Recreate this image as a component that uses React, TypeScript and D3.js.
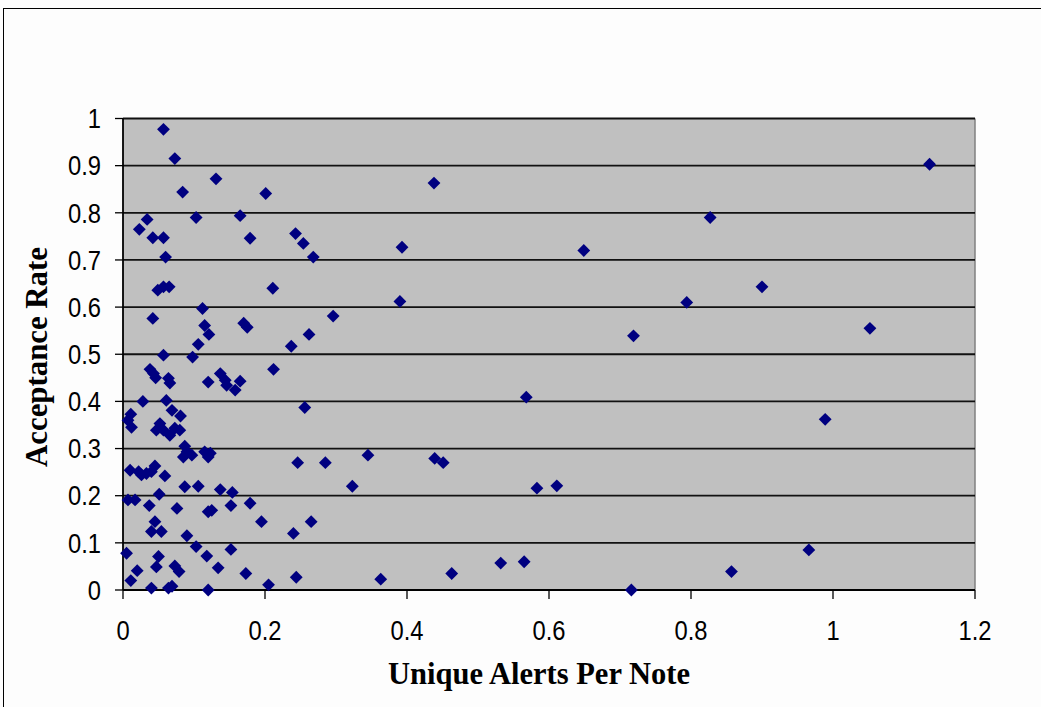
import React from "react";
import * as d3 from "d3";

// Unique alerts per note (x) and acceptance rate (y)
const alertsPerNote: number[] = [
  0.057, 0.073, 0.131, 0.084, 0.034, 0.023, 0.103, 0.042, 0.057, 0.060,
  0.049, 0.057, 0.065, 0.112, 0.042, 0.115, 0.121, 0.106, 0.057, 0.098,
  0.201, 0.165, 0.179, 0.243, 0.254, 0.268, 0.393, 0.211, 0.390, 0.170,
  0.175, 0.296, 0.262, 0.237,
  0.438, 0.827, 0.649, 0.794, 0.719, 1.136, 0.900, 1.052,
  0.038, 0.043, 0.046, 0.064, 0.066, 0.120, 0.137, 0.144, 0.146, 0.158,
  0.165, 0.212, 0.256, 0.028, 0.061, 0.069, 0.081, 0.011, 0.007, 0.012,
  0.052, 0.057, 0.047, 0.066, 0.073, 0.080, 0.087, 0.090, 0.085, 0.097,
  0.115, 0.123, 0.120, 0.010, 0.022, 0.026, 0.033, 0.040, 0.045, 0.059,
  0.087, 0.106, 0.137, 0.154, 0.051, 0.007, 0.017, 0.037, 0.076, 0.120,
  0.125, 0.152, 0.179, 0.045, 0.040, 0.054, 0.090, 0.103, 0.118, 0.134,
  0.195, 0.265, 0.240, 0.152, 0.173, 0.205, 0.244, 0.363, 0.005, 0.050,
  0.047, 0.073, 0.079, 0.020, 0.011, 0.040, 0.064, 0.069, 0.120, 0.246,
  0.285, 0.345, 0.323,
  0.568, 0.439, 0.451, 0.583, 0.611, 0.463, 0.532, 0.565, 0.716, 0.989,
  0.966, 0.857,
];

const acceptanceRate: number[] = [
  0.977, 0.915, 0.872, 0.844, 0.786, 0.765, 0.790, 0.747, 0.747, 0.706,
  0.636, 0.643, 0.643, 0.597, 0.576, 0.561, 0.542, 0.521, 0.498, 0.494,
  0.841, 0.794, 0.746, 0.756, 0.735, 0.706, 0.727, 0.640, 0.612, 0.566,
  0.557, 0.581, 0.542, 0.517,
  0.863, 0.790, 0.720, 0.610, 0.539, 0.903, 0.643, 0.555,
  0.468, 0.459, 0.450, 0.449, 0.439, 0.441, 0.459, 0.445, 0.434, 0.424,
  0.443, 0.468, 0.387, 0.400, 0.402, 0.381, 0.369, 0.373, 0.360, 0.345,
  0.353, 0.339, 0.339, 0.328, 0.343, 0.339, 0.305, 0.293, 0.282, 0.286,
  0.293, 0.290, 0.282, 0.254, 0.251, 0.244, 0.247, 0.251, 0.263, 0.242,
  0.219, 0.220, 0.213, 0.207, 0.203, 0.191, 0.191, 0.179, 0.173, 0.166,
  0.169, 0.179, 0.184, 0.145, 0.124, 0.124, 0.115, 0.092, 0.072, 0.047,
  0.145, 0.145, 0.120, 0.086, 0.035, 0.011, 0.027, 0.023, 0.078, 0.071,
  0.049, 0.051, 0.039, 0.041, 0.020, 0.004, 0.004, 0.008, 0.000, 0.270,
  0.270, 0.286, 0.220,
  0.409, 0.279, 0.270, 0.216, 0.221, 0.035, 0.057, 0.060, 0.000, 0.362,
  0.085, 0.039,
];

const xTicks: number[] = [0, 0.2, 0.4, 0.6, 0.8, 1, 1.2];
const yTicks: number[] = [0, 0.1, 0.2, 0.3, 0.4, 0.5, 0.6, 0.7, 0.8, 0.9, 1];
const xTitle = "Unique Alerts Per Note";
const yTitle = "Acceptance Rate";

export default function App() {
  const W = 1041;
  const H = 707;
  const left = 123;
  const right = 975;
  const top = 118.5;
  const bottom = 590;

  const x = d3.scaleLinear().domain([0, 1.2]).range([left, right]);
  const y = d3.scaleLinear().domain([0, 1]).range([bottom, top]);
  const fmt = (v: number) => String(v);
  const diamond = d3.symbol().type(d3.symbolDiamond2).size(105)();

  const points = alertsPerNote.map((v, i) => ({ x: v, y: acceptanceRate[i] }));

  return (
    <svg
      width={W}
      height={H}
      style={{ position: "absolute", left: 0, top: 0, background: "#fff" }}
    >
      <rect x={0} y={0} width={W} height={H} fill="#fdfdfd" />
      <rect x={3.5} y={8.5} width={1200} height={900} fill="none" stroke="#000" strokeWidth={1} />

      {/* plot area */}
      <rect x={left} y={top} width={right - left} height={bottom - top} fill="#c0c0c0" />
      <line x1={right} x2={right} y1={top} y2={bottom} stroke="#808080" strokeWidth={1.5} />

      {/* gridlines */}
      {yTicks.filter((t) => t > 0).map((t) => (
        <line key={"g" + t} x1={left} x2={right} y1={y(t)} y2={y(t)} stroke="#111" strokeWidth={1.8} />
      ))}

      {/* axes */}
      <line x1={left} x2={right} y1={bottom} y2={bottom} stroke="#000" strokeWidth={1.8} />
      <line x1={left} x2={left} y1={top} y2={bottom} stroke="#000" strokeWidth={1.8} />

      {yTicks.map((t) => (
        <g key={"yt" + t}>
          <line x1={left - 8} x2={left} y1={y(t)} y2={y(t)} stroke="#000" strokeWidth={1.3} />
          <g transform={`translate(101, ${y(t)}) scale(0.88, 1)`}>
            <text
              x={0}
              y={0}
              dy="0.36em"
              textAnchor="end"
              fontFamily="'Liberation Sans', Arial, sans-serif"
              fontSize={27}
              fill="#000"
            >
              {fmt(t)}
            </text>
          </g>
        </g>
      ))}

      {xTicks.map((t) => (
        <g key={"xt" + t}>
          <line x1={x(t)} x2={x(t)} y1={bottom} y2={bottom + 9} stroke="#000" strokeWidth={1.3} />
          <g transform={`translate(${x(t)}, 640) scale(0.88, 1)`}>
            <text
              x={0}
              y={0}
              textAnchor="middle"
              fontFamily="'Liberation Sans', Arial, sans-serif"
              fontSize={27}
              fill="#000"
            >
              {fmt(t)}
            </text>
          </g>
        </g>
      ))}

      {/* points */}
      {points.map((p, i) => (
        <path
          key={"p" + i}
          d={diamond || ""}
          transform={`translate(${x(p.x)}, ${y(p.y)})`}
          fill="#000080"
        />
      ))}

      {/* titles */}
      <text
        x={539}
        y={684}
        textAnchor="middle"
        fontFamily="'Liberation Serif', 'Times New Roman', serif"
        fontWeight="bold"
        fontSize={32}
        textLength={302}
        lengthAdjust="spacingAndGlyphs"
        fill="#000"
      >
        {xTitle}
      </text>
      <text
        transform="translate(47, 357) rotate(-90)"
        x={0}
        y={0}
        textAnchor="middle"
        fontFamily="'Liberation Serif', 'Times New Roman', serif"
        fontWeight="bold"
        fontSize={31}
        textLength={220}
        lengthAdjust="spacingAndGlyphs"
        fill="#000"
      >
        {yTitle}
      </text>
    </svg>
  );
}
